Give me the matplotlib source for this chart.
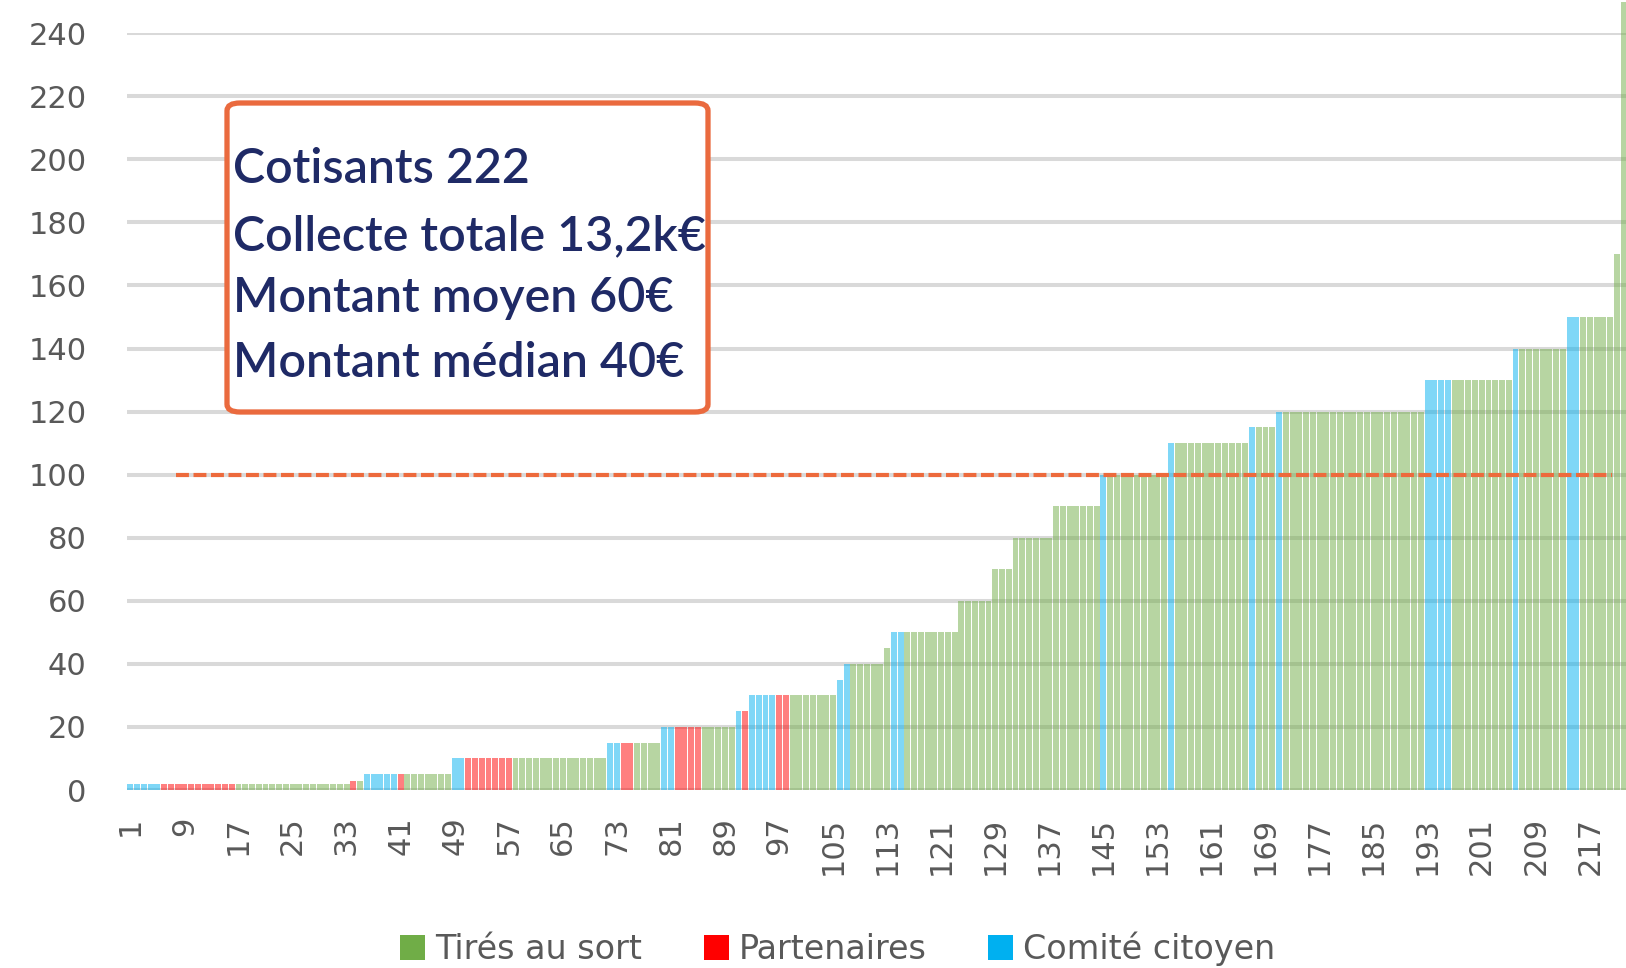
import matplotlib
matplotlib.use("Agg")
import matplotlib.pyplot as plt
from matplotlib.patches import FancyBboxPatch, Patch

# ---------------- data ----------------
ranks = list(range(1, 223))

amounts = [
    2, 2, 2, 2, 2, 2, 2, 2, 2, 2, 2, 2, 2, 2, 2, 2, 2, 2, 2, 2,
    2, 2, 2, 2, 2, 2, 2, 2, 2, 2, 2, 2, 2,
    3, 3,
    5, 5, 5, 5, 5, 5, 5, 5, 5, 5, 5, 5, 5,
    10, 10, 10, 10, 10, 10, 10, 10, 10, 10, 10, 10, 10, 10, 10, 10, 10, 10, 10, 10, 10, 10, 10,
    15, 15, 15, 15, 15, 15, 15, 15,
    20, 20, 20, 20, 20, 20, 20, 20, 20, 20, 20,
    25, 25,
    30, 30, 30, 30, 30, 30, 30, 30, 30, 30, 30, 30, 30,
    35,
    40, 40, 40, 40, 40, 40,
    45,
    50, 50, 50, 50, 50, 50, 50, 50, 50, 50,
    60, 60, 60, 60, 60,
    70, 70, 70,
    80, 80, 80, 80, 80, 80,
    90, 90, 90, 90, 90, 90, 90,
    100, 100, 100, 100, 100, 100, 100, 100, 100, 100,
    110, 110, 110, 110, 110, 110, 110, 110, 110, 110, 110, 110,
    115, 115, 115, 115,
    120, 120, 120, 120, 120, 120, 120, 120, 120, 120, 120, 120, 120, 120, 120, 120, 120, 120, 120, 120, 120, 120,
    130, 130, 130, 130, 130, 130, 130, 130, 130, 130, 130, 130, 130,
    140, 140, 140, 140, 140, 140, 140, 140,
    150, 150, 150, 150, 150, 150, 150,
    170,
    250,
]

# T = Tirés au sort, P = Partenaires, C = Comité citoyen
groups = list(
    "CCCCC" "PPPPPPPPPPP" "TTTTTTTTTTTTTTTTT"        # 2
    "PT"                                              # 3
    "CCCCC" "P" "TTTTTTT"                             # 5
    "CC" "PPPPPPP" "TTTTTTTTTTTTTT"                   # 10
    "CC" "PP" "TTTT"                                  # 15
    "CC" "PPPP" "TTTTT"                               # 20
    "CP"                                              # 25
    "CCCC" "PP" "TTTTTTT"                             # 30
    "C"                                               # 35
    "C" "TTTTT"                                       # 40
    "T"                                               # 45
    "CC" "TTTTTTTT"                                   # 50
    "TTTTT"                                           # 60
    "TTT"                                             # 70
    "TTTTTT"                                          # 80
    "TTTTTTT"                                         # 90
    "C" "TTTTTTTTT"                                   # 100
    "C" "TTTTTTTTTTT"                                 # 110
    "C" "TTT"                                         # 115
    "C" "TTTTTTTTTTTTTTTTTTTTT"                       # 120
    "CCCC" "TTTTTTTTT"                                # 130
    "C" "TTTTTTT"                                     # 140
    "CC" "TTTTT"                                      # 150
    "T"                                               # 170
    "T"                                               # 250
)

group_keys = ["T", "P", "C"]
group_labels = ["Tirés au sort", "Partenaires", "Comité citoyen"]
group_colors = {"T": "#70AD47", "P": "#FF0000", "C": "#00B0F0"}

xtick_values = [1, 9, 17, 25, 33, 41, 49, 57, 65, 73, 81, 89, 97, 105, 113,
                121, 129, 137, 145, 153, 161, 169, 177, 185, 193, 201, 209, 217]
ytick_values = [0, 20, 40, 60, 80, 100, 120, 140, 160, 180, 200, 220, 240]

threshold = 100
threshold_start, threshold_end = 7.7, 220.3

box_lines = ["Cotisants 222", "Collecte totale 13,2k€",
             "Montant moyen 60€", "Montant médian 40€"]

# ---------------- figure ----------------
W, H = 1626, 968
fig = plt.figure(figsize=(W / 100, H / 100), dpi=100)
fig.patch.set_facecolor("white")

ax = fig.add_axes([127 / W, (H - 790) / H, 1500 / W, (790 - 33.2) / H])
ax.set_xlim(0.5, 222.5)
ax.set_ylim(0, 240)

grid_color = "#D9D9D9"
text_gray = "#595959"

for yv in ytick_values:
    ax.axhline(yv, color=grid_color, lw=2.9, zorder=1)

bar_colors = [group_colors[g] for g in groups]
ax.bar(ranks, amounts, width=0.88, color=bar_colors, alpha=0.5,
       linewidth=0, zorder=2, clip_on=False)

ax.hlines(threshold, threshold_start, threshold_end, colors="#ED6A3C",
          linestyles=(0, (3.1, 1.1)), lw=3.0, zorder=3)

for s in ax.spines.values():
    s.set_visible(False)

ax.set_xticks(xtick_values)
ax.set_xticklabels([str(v) for v in xtick_values], rotation=90,
                   fontsize=22, color=text_gray, family="DejaVu Sans")
ax.set_yticks(ytick_values)
ax.set_yticklabels([str(v) for v in ytick_values], fontsize=22,
                   color=text_gray, family="DejaVu Sans")
ax.tick_params(axis="x", length=0, pad=19)
ax.tick_params(axis="y", length=0, pad=29)

# legend
handles = [Patch(facecolor=group_colors[k], edgecolor="none") for k in group_keys]
fig.legend(handles, group_labels, loc="center", bbox_to_anchor=(838 / W, 19 / H),
           ncol=3, frameon=False, prop={"family": "DejaVu Sans", "size": 24},
           labelcolor=text_gray, handlelength=0.75, handleheight=0.75,
           handletextpad=0.3, columnspacing=1.85)

# annotation box
box = FancyBboxPatch((227 / W, (H - 412) / H), 481 / W, 309 / H,
                     boxstyle="round,pad=0,rounding_size=0.008",
                     transform=fig.transFigure, facecolor="white",
                     edgecolor="#EA6A3E", linewidth=3.8, zorder=5)
fig.patches.append(box)

baselines_px = [183, 250, 312, 377]
for line, yb in zip(box_lines, baselines_px):
    fig.text(233 / W, (H - yb) / H, line, ha="left", va="baseline",
             fontsize=34.8, color="#1F2A66", family="Lato", fontweight="semibold",
             zorder=6)

fig.savefig("out.png", dpi=100, facecolor="white")
